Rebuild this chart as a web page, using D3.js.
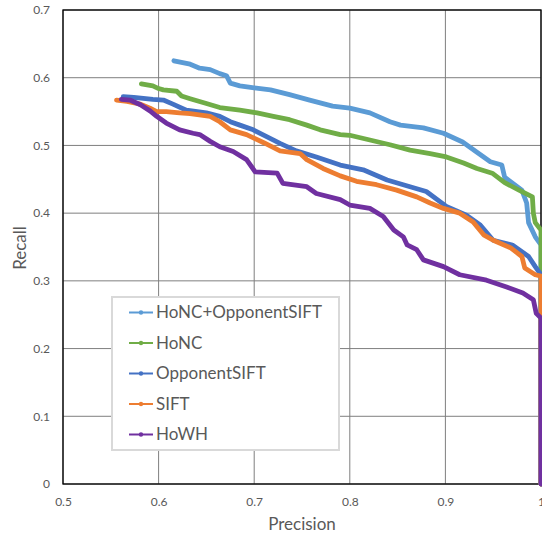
<!DOCTYPE html>
<html>
<head>
<meta charset="utf-8">
<script src="https://cdn.jsdelivr.net/npm/d3@7"></script>
<style>
  html, body { margin: 0; padding: 0; background: #fff; }
  svg { display: block; }
  text { font-family: Lato, "Open Sans", sans-serif; fill: #595959; }
</style>
</head>
<body>
<svg id="chart" width="542" height="533"></svg>
<script>
// ---- data (precision, recall) ----
const seriesNames = ["HoNC+OpponentSIFT", "HoNC", "OpponentSIFT", "SIFT", "HoWH"];
const seriesColors = ["#5B9BD5", "#70AD47", "#4472C4", "#ED7D31", "#7030A0"];

const honcOpponentSift = [
  [0.616,0.625],[0.633,0.620],[0.643,0.614],[0.654,0.612],[0.664,0.606],[0.671,0.603],
  [0.675,0.592],[0.685,0.588],[0.700,0.585],[0.717,0.582],[0.737,0.575],[0.758,0.567],
  [0.782,0.558],[0.800,0.555],[0.821,0.548],[0.842,0.535],[0.853,0.530],[0.877,0.526],
  [0.898,0.518],[0.918,0.505],[0.933,0.490],[0.947,0.476],[0.959,0.471],[0.962,0.453],
  [0.980,0.434],[0.985,0.415],[0.987,0.386],[0.994,0.365],[1.000,0.353],[1.000,0.000]
];
const honc = [
  [0.582,0.591],[0.594,0.588],[0.600,0.584],[0.605,0.582],[0.619,0.580],[0.624,0.573],
  [0.633,0.569],[0.650,0.562],[0.664,0.556],[0.685,0.552],[0.703,0.548],[0.720,0.543],
  [0.737,0.538],[0.755,0.530],[0.769,0.523],[0.790,0.516],[0.800,0.515],[0.821,0.508],
  [0.842,0.501],[0.863,0.493],[0.884,0.488],[0.901,0.483],[0.919,0.474],[0.933,0.466],
  [0.949,0.459],[0.962,0.445],[0.977,0.434],[0.991,0.424],[0.992,0.400],[0.994,0.386],
  [1.000,0.375],[1.000,0.000]
];
const opponentSift = [
  [0.563,0.572],[0.574,0.571],[0.594,0.568],[0.605,0.567],[0.615,0.561],[0.629,0.552],
  [0.650,0.548],[0.664,0.543],[0.675,0.535],[0.685,0.530],[0.699,0.523],[0.713,0.513],
  [0.727,0.503],[0.744,0.492],[0.765,0.483],[0.790,0.471],[0.814,0.464],[0.839,0.449],
  [0.863,0.439],[0.880,0.432],[0.901,0.410],[0.922,0.397],[0.936,0.383],[0.950,0.360],
  [0.970,0.353],[0.987,0.336],[0.994,0.321],[1.000,0.309],[1.000,0.000]
];
const sift = [
  [0.556,0.567],[0.567,0.565],[0.581,0.561],[0.591,0.555],[0.598,0.550],[0.608,0.550],
  [0.622,0.548],[0.633,0.547],[0.654,0.543],[0.664,0.535],[0.675,0.523],[0.692,0.516],
  [0.710,0.504],[0.727,0.492],[0.748,0.488],[0.755,0.479],[0.772,0.466],[0.790,0.455],
  [0.807,0.447],[0.828,0.442],[0.849,0.434],[0.870,0.424],[0.884,0.415],[0.898,0.407],
  [0.915,0.400],[0.929,0.387],[0.940,0.368],[0.950,0.360],[0.968,0.349],[0.980,0.336],
  [0.983,0.319],[0.994,0.309],[1.000,0.307],[1.000,0.000]
];
const howh = [
  [0.561,0.568],[0.570,0.567],[0.581,0.560],[0.591,0.551],[0.598,0.543],[0.608,0.533],
  [0.622,0.523],[0.636,0.518],[0.643,0.516],[0.654,0.506],[0.664,0.498],[0.678,0.491],
  [0.692,0.479],[0.701,0.461],[0.724,0.459],[0.730,0.444],[0.755,0.439],[0.765,0.429],
  [0.790,0.420],[0.800,0.412],[0.821,0.407],[0.835,0.395],[0.846,0.375],[0.856,0.365],
  [0.860,0.353],[0.870,0.346],[0.877,0.331],[0.898,0.321],[0.915,0.309],[0.943,0.301],
  [0.964,0.291],[0.981,0.282],[0.992,0.272],[0.995,0.252],[1.000,0.245],[1.000,0.000]
];
const allSeries = [honcOpponentSift, honc, opponentSift, sift, howh];

const xTicks = [0.5, 0.6, 0.7, 0.8, 0.9, 1];
const yTicks = [0, 0.1, 0.2, 0.3, 0.4, 0.5, 0.6, 0.7];
const xTitle = "Precision";
const yTitle = "Recall";

// ---- layout ----
const svg = d3.select("#chart");
const pLeft = 63, pRight = 541, pTop = 10, pBottom = 484;
const x = d3.scaleLinear().domain([0.5, 1]).range([pLeft, pRight]);
const y = d3.scaleLinear().domain([0, 0.7]).range([pBottom, pTop]);

// gridlines
const grid = svg.append("g");
grid.selectAll("line.gx").data(xTicks).join("line")
  .attr("x1", d => x(d)).attr("x2", d => x(d))
  .attr("y1", pTop).attr("y2", pBottom)
  .attr("stroke", "#7f7f7f").attr("stroke-width", 1);
grid.selectAll("line.gy").data(yTicks).join("line")
  .attr("x1", pLeft).attr("x2", pRight)
  .attr("y1", d => y(d)).attr("y2", d => y(d))
  .attr("stroke", "#7f7f7f").attr("stroke-width", 1);

// axes (labels only)
const xAxis = svg.append("g").attr("transform", `translate(0,${pBottom})`)
  .call(d3.axisBottom(x).tickValues(xTicks).tickSize(0).tickPadding(13)
        .tickFormat(d => d3.format("")(d)));
xAxis.select(".domain").remove();
xAxis.selectAll("text").style("font-size", "12px").attr("fill", "#595959")
  .style("font-family", "Lato, 'Open Sans', sans-serif");

const yAxis = svg.append("g").attr("transform", `translate(${pLeft},0)`)
  .call(d3.axisLeft(y).tickValues(yTicks).tickSize(0).tickPadding(13)
        .tickFormat(d => d3.format("")(d)));
yAxis.select(".domain").remove();
yAxis.selectAll("text").style("font-size", "12px").attr("fill", "#595959")
  .style("font-family", "Lato, 'Open Sans', sans-serif");

// plot border
svg.append("rect").attr("x", pLeft).attr("y", pTop)
  .attr("width", pRight - pLeft).attr("height", pBottom - pTop)
  .attr("fill", "none").attr("stroke", "#000").attr("stroke-width", 1.3);

// series
const line = d3.line().x(d => x(d[0])).y(d => y(d[1]));
svg.append("g").selectAll("path").data(allSeries).join("path")
  .attr("d", line)
  .attr("fill", "none")
  .attr("stroke", (d, i) => seriesColors[i])
  .attr("stroke-width", 4.8)
  .attr("stroke-linejoin", "round")
  .attr("stroke-linecap", "round");

// axis titles
svg.append("text").attr("x", (pLeft + pRight) / 2).attr("y", 530)
  .attr("text-anchor", "middle").style("font-size", "17px").text(xTitle);
svg.append("text").attr("transform", `translate(26,248) rotate(-90)`)
  .attr("text-anchor", "middle").style("font-size", "17px").text(yTitle);

// legend
const lg = svg.append("g");
lg.append("rect").attr("x", 112).attr("y", 297).attr("width", 227).attr("height", 153)
  .attr("fill", "#fff").attr("stroke", "#d9d9d9").attr("stroke-width", 2);
const items = lg.selectAll("g.item").data(seriesNames).join("g")
  .attr("transform", (d, i) => `translate(0,${312.5 + i * 30.5})`);
items.append("line").attr("x1", 129).attr("x2", 153).attr("y1", 0).attr("y2", 0)
  .attr("stroke", (d, i) => seriesColors[i]).attr("stroke-width", 2);
items.append("circle").attr("cx", 141).attr("cy", 0).attr("r", 2.2)
  .attr("fill", (d, i) => seriesColors[i]);
items.append("text").attr("x", 156).attr("y", 0).attr("dy", "0.35em")
  .style("font-size", "17px").text(d => d);
</script>
</body>
</html>
